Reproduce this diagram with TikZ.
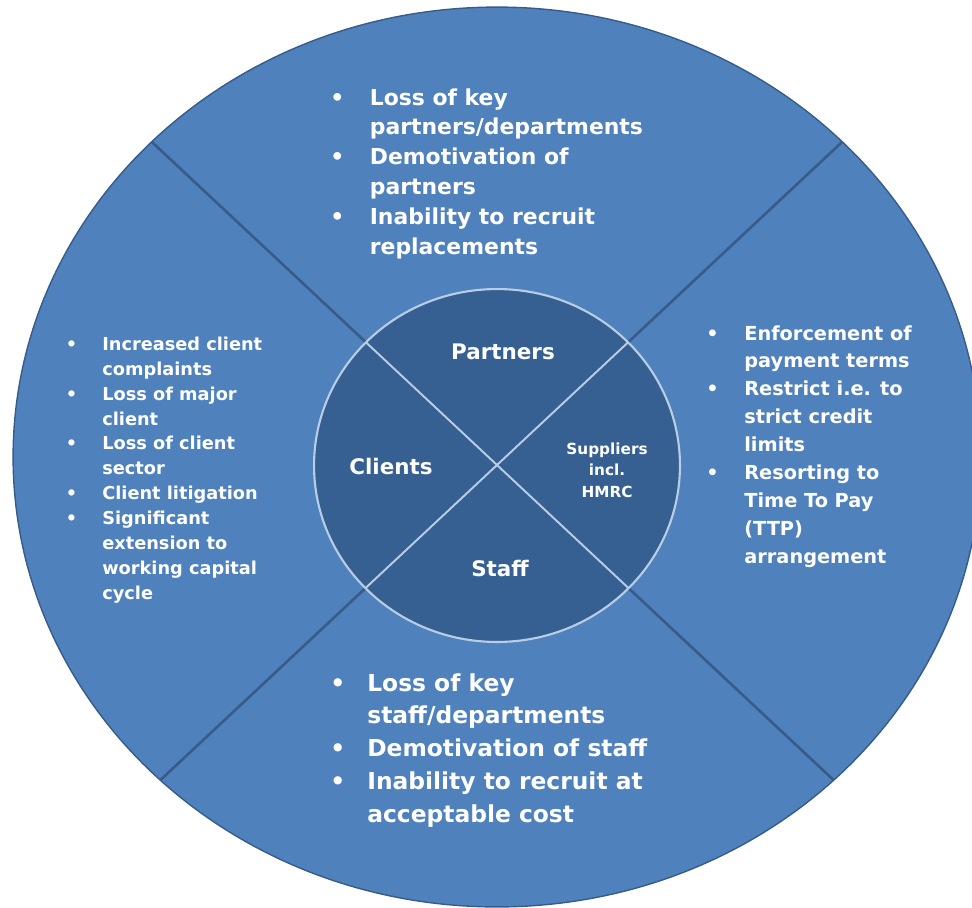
\documentclass[tikz,border=0pt]{standalone}
\usepackage{fontspec}
\setmainfont{DejaVu Sans}
\definecolor{outerblue}{HTML}{4F81BD}
\definecolor{outerline}{HTML}{385C8A}
\definecolor{innerblue}{HTML}{366092}
\definecolor{innerline}{HTML}{B9CDE5}
\newcommand{\bl}[1]{\makebox[#1][l]{\textbullet}}
\newcommand{\ind}[1]{\hspace*{#1}}
\begin{document}
\begin{tikzpicture}[x=0.02cm,y=-0.02cm,
  lst/.style={anchor=north west,align=left,inner sep=0pt,text=white},
  hub/.style={inner sep=0pt,text=white,font=\bfseries\fontsize{12.2}{14}\selectfont}]
\useasboundingbox (0,0) rectangle (972,907);

% Outer disc
\fill[outerblue] (497,457) ellipse [x radius=9.68cm, y radius=9cm];

% Dividers between the outer sectors
\begin{scope}
  \clip (497,457) ellipse [x radius=9.68cm, y radius=9cm];
  \foreach \dx/\dy in {-688/-644,688/-644,-688/644,688/644}
    \draw[outerline,line width=1.5pt] (497,465) -- ++(\dx,\dy);
\end{scope}
\draw[outerline,line width=0.8pt] (497,457) ellipse [x radius=9.68cm, y radius=9cm];

% Inner disc
\filldraw[fill=innerblue,draw=innerline,line width=1.2pt]
  (497,465.5) ellipse [x radius=3.66cm, y radius=3.53cm];
\begin{scope}
  \clip (497,465.5) ellipse [x radius=3.66cm, y radius=3.53cm];
  \foreach \dx/\dy in {-688/-644,688/-644,-688/644,688/644}
    \draw[innerline,line width=1.1pt] (497,465) -- ++(\dx,\dy);
\end{scope}

% Inner labels
\node[hub] (partners) at (503,352) {Partners};
\node[hub] (clients) at (391,466) {Clients};
\node[hub] (staff) at (500,568) {Staff};
\node[hub,align=center,font=\bfseries\fontsize{8.7}{12.3}\selectfont] (suppliers) at (607,470)
  {Suppliers\\incl.\\HMRC};

% Partner risks
\node[lst,font=\bfseries\fontsize{12.47}{17}\selectfont] (partnerlist) at (330,88)
  {\bl{0.79cm}Loss of key\\\ind{0.79cm}partners/departments\\
   \bl{0.79cm}Demotivation of\\\ind{0.79cm}partners\\
   \bl{0.79cm}Inability to recruit\\\ind{0.79cm}replacements};

% Client risks
\node[lst,font=\bfseries\fontsize{10.1}{14.17}\selectfont] (clientlist) at (65.5,336.5)
  {\bl{0.73cm}Increased client\\\ind{0.73cm}complaints\\
   \bl{0.73cm}Loss of major\\\ind{0.73cm}client\\
   \bl{0.73cm}Loss of client\\\ind{0.73cm}sector\\
   \bl{0.73cm}Client litigation\\
   \bl{0.73cm}Significant\\\ind{0.73cm}extension to\\\ind{0.73cm}working capital\\\ind{0.73cm}cycle};

% Supplier risks
\node[lst,font=\bfseries\fontsize{11}{15.9}\selectfont] (supplierlist) at (706,325)
  {\bl{0.76cm}Enforcement of\\\ind{0.76cm}payment terms\\
   \bl{0.76cm}Restrict i.e. to\\\ind{0.76cm}strict credit\\\ind{0.76cm}limits\\
   \bl{0.76cm}Resorting to\\\ind{0.76cm}Time To Pay\\\ind{0.76cm}(TTP)\\\ind{0.76cm}arrangement};

% Staff risks
\node[lst,font=\bfseries\fontsize{13.3}{18.7}\selectfont] (stafflist) at (330,673)
  {\bl{0.74cm}Loss of key\\\ind{0.74cm}staff/departments\\
   \bl{0.74cm}Demotivation of staff\\
   \bl{0.74cm}Inability to recruit at\\\ind{0.74cm}acceptable cost};
\end{tikzpicture}
\end{document}
